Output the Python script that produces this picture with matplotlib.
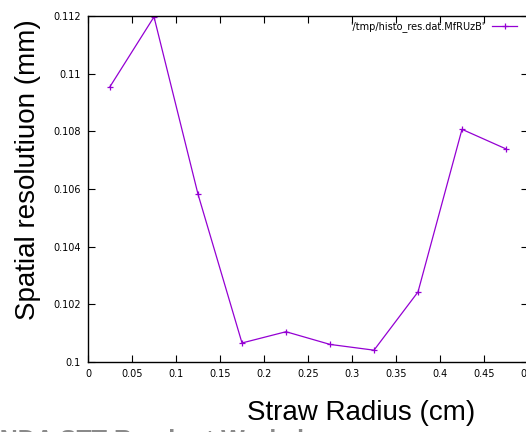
import matplotlib
matplotlib.use("Agg")
import matplotlib.pyplot as plt
from matplotlib.ticker import FuncFormatter

radius = [0.025, 0.075, 0.125, 0.175, 0.225, 0.275, 0.325, 0.375, 0.425, 0.475]
resolution = [0.10955, 0.11197, 0.10582, 0.10066, 0.10105, 0.10061, 0.10041, 0.10243, 0.10807, 0.10739]
xticks = [0, 0.05, 0.1, 0.15, 0.2, 0.25, 0.3, 0.35, 0.4, 0.45, 0.5]
yticks = [0.1, 0.102, 0.104, 0.106, 0.108, 0.11, 0.112]
legend_label = "'/tmp/histo_res.dat.MfRUzB'"

W, H = 526, 432
fig = plt.figure(figsize=(W / 100, H / 100), dpi=100)
left, right, top, bottom = 88, 528, 16, 362
ax = fig.add_axes([left / W, 1 - bottom / H, (right - left) / W, (bottom - top) / H])

color = "#9400D3"
ax.plot(radius, resolution, color=color, lw=0.9, marker="+", ms=5, mew=0.9, label=legend_label)

ax.set_xlim(0, 0.5)
ax.set_ylim(0.1, 0.112)
ax.set_xticks(xticks)
ax.set_yticks(yticks)
fmt = FuncFormatter(lambda v, p: ("%g" % round(v, 6)))
ax.xaxis.set_major_formatter(fmt)
ax.yaxis.set_major_formatter(fmt)
ax.tick_params(direction="in", length=5, width=0.8, labelsize=7, top=True, right=True,
               pad=5, colors="black")
for s in ax.spines.values():
    s.set_linewidth(1.0)

fig.text(28 / W, 1 - 170 / H, "Spatial resolutiuon (mm)", rotation=90, ha="center", va="center",
         fontsize=20, family="Liberation Sans")
fig.text(361 / W, 1 - 413 / H, "Straw Radius (cm)", ha="center", va="center",
         fontsize=20, family="Liberation Sans")
fig.text(-33 / W, 1 - 448 / H, "PANDA STT Readout Workshop", ha="left", va="baseline",
         fontsize=18, family="Liberation Sans", color="#8a8a8a", fontweight="bold")

leg = ax.legend(loc="upper right", bbox_to_anchor=(0.99, 1.005), frameon=False, fontsize=7,
                handlelength=2.5, handletextpad=0.8, markerfirst=False, borderaxespad=0.3)

fig.savefig("out.png", dpi=100)
